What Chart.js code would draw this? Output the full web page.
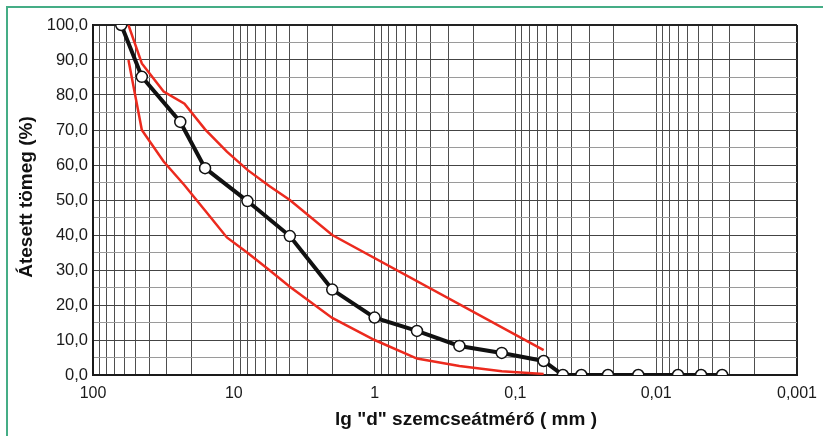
<!DOCTYPE html>
<html>
<head>
<meta charset="utf-8">
<script src="https://cdn.jsdelivr.net/npm/chart.js@4.4.1/dist/chart.umd.min.js"></script>
<style>
  html, body { margin: 0; padding: 0; background: #fff; }
  #wrap { position: relative; width: 823px; height: 436px; }
  canvas { display: block; }
</style>
</head>
<body>
<div id="wrap"><canvas id="c" width="823" height="436"></canvas></div>
<script>
// ---- data ----
const sampleSizes   = [63, 45, 24, 16, 8, 4, 2, 1, 0.5, 0.25, 0.125, 0.063, 0.046, 0.034, 0.022, 0.0134, 0.007, 0.0048, 0.0034];
const samplePassing = [100, 85.2, 72.3, 59.1, 49.7, 39.7, 24.4, 16.4, 12.6, 8.3, 6.3, 4.0, 0, 0, 0, 0, 0, 0, 0];

const upperSizes   = [56, 45, 31.5, 22.4, 16, 11.2, 8, 5.6, 4, 2, 0.063];
const upperPassing = [100, 89, 81, 77.5, 70.2, 63.8, 58.6, 54, 50, 40, 7.1];

const lowerSizes   = [56, 45, 31.5, 22.4, 16, 11.2, 8, 5.6, 4, 2, 1, 0.5, 0.25, 0.125, 0.063];
const lowerPassing = [90, 70, 61, 54.2, 47, 39.3, 34.9, 30, 25.2, 16.3, 10, 4.7, 2.6, 1.1, 0.3];

const xDecades    = [100, 10, 1, 0.1, 0.01, 0.001];
const xTickLabels = ["100", "10", "1", "0,1", "0,01", "0,001"];
const xMultipliers = [1, 2, 3, 4, 5, 6, 7, 8, 9];
const yMin = 0, yMax = 100, yStep = 5, yLabelStep = 10;

const xTitle = 'lg "d" szemcseátmérő ( mm )';
const yTitle = 'Átesett tömeg (%)';

const toXY = (xs, ys) => xs.map((x, i) => ({ x: x, y: ys[i] }));

// grid tick values for the log axis
const xGridValues = [];
xDecades.slice(1).forEach(d => xMultipliers.forEach(m => xGridValues.push(+(d * m).toPrecision(6))));
xGridValues.push(xDecades[0]);
xGridValues.sort((a, b) => a - b);

function decadeIndex(v) {
  for (let i = 0; i < xDecades.length; i++) {
    if (Math.abs(v - xDecades[i]) / xDecades[i] < 1e-6) return i;
  }
  return -1;
}

const FONT = "'Liberation Sans', Arial, Helvetica, sans-serif";

const framePlugin = {
  id: 'frame',
  beforeDraw(chart) {
    const ctx = chart.ctx;
    ctx.save();
    ctx.fillStyle = '#ffffff';
    ctx.fillRect(0, 0, chart.width, chart.height);
    ctx.strokeStyle = '#45ad86';
    ctx.lineWidth = 2;
    ctx.beginPath();
    ctx.moveTo(7, chart.height);
    ctx.lineTo(7, 7);
    ctx.lineTo(chart.width, 7);
    ctx.stroke();
    ctx.restore();
  },
  afterDraw(chart) {
    const ctx = chart.ctx;
    ctx.save();
    ctx.fillStyle = '#111';
    ctx.font = 'bold 19px ' + FONT;
    ctx.textAlign = 'center';
    ctx.textBaseline = 'middle';
    ctx.fillText(xTitle, 466, 420);
    ctx.translate(27, 197);
    ctx.rotate(-Math.PI / 2);
    ctx.fillText(yTitle, 0, 0);
    ctx.restore();
  }
};

new Chart(document.getElementById('c'), {
  type: 'line',
  data: {
    datasets: [
      {
        data: toXY(sampleSizes, samplePassing),
        borderColor: '#111',
        borderWidth: 4,
        pointRadius: 5.5,
        pointBackgroundColor: '#fff',
        pointBorderColor: '#111',
        pointBorderWidth: 1.5,
        tension: 0,
        order: 0
      },
      {
        data: toXY(upperSizes, upperPassing),
        borderColor: '#ec2a1e',
        borderWidth: 2.5,
        pointRadius: 0,
        tension: 0,
        order: 1
      },
      {
        data: toXY(lowerSizes, lowerPassing),
        borderColor: '#ec2a1e',
        borderWidth: 2.5,
        pointRadius: 0,
        tension: 0,
        order: 1
      }
    ]
  },
  options: {
    responsive: false,
    animation: false,
    layout: { padding: { left: 0, top: 25, right: 26, bottom: 0 } },
    plugins: { legend: { display: false }, tooltip: { enabled: false } },
    scales: {
      x: {
        type: 'logarithmic',
        reverse: true,
        min: 0.001,
        max: 100,
        afterBuildTicks(scale) {
          scale.ticks = xGridValues.map(v => ({ value: v, major: decadeIndex(v) >= 0 }));
        },
        afterFit(scale) { scale.height = 61; },
        ticks: {
          autoSkip: false,
          maxRotation: 0,
          padding: 9,
          color: '#1a1a1a',
          font: { family: FONT, size: 16 },
          callback(value) {
            const i = decadeIndex(value);
            return i >= 0 ? xTickLabels[i] : '';
          }
        },
        grid: {
          drawTicks: false,
          color(ctx) {
            const v = ctx.tick && ctx.tick.value;
            if (v !== undefined && Math.abs(v - 0.001) < 1e-9) return '#222';
            return '#4e4e4e';
          },
          lineWidth(ctx) {
            const v = ctx.tick && ctx.tick.value;
            if (v !== undefined && Math.abs(v - 0.001) < 1e-9) return 2;
            return 1;
          }
        },
        border: { display: true, color: '#1a1a1a', width: 2 }
      },
      y: {
        type: 'linear',
        min: yMin,
        max: yMax,
        afterFit(scale) { scale.width = 93; },
        ticks: {
          stepSize: yStep,
          autoSkip: false,
          padding: 5,
          color: '#1a1a1a',
          font: { family: FONT, size: 16.5 },
          callback(value) {
            return value % yLabelStep === 0 ? value.toFixed(1).replace('.', ',') : '';
          }
        },
        grid: {
          drawTicks: false,
          color(ctx) {
            const v = ctx.tick && ctx.tick.value;
            if (v === yMax) return '#222';
            return v % yLabelStep === 0 ? '#444' : '#9a9a9a';
          },
          lineWidth(ctx) {
            const v = ctx.tick && ctx.tick.value;
            return v === yMax ? 2 : 1;
          }
        },
        border: { display: true, color: '#1a1a1a', width: 2 }
      }
    }
  },
  plugins: [framePlugin]
});
</script>
</body>
</html>
